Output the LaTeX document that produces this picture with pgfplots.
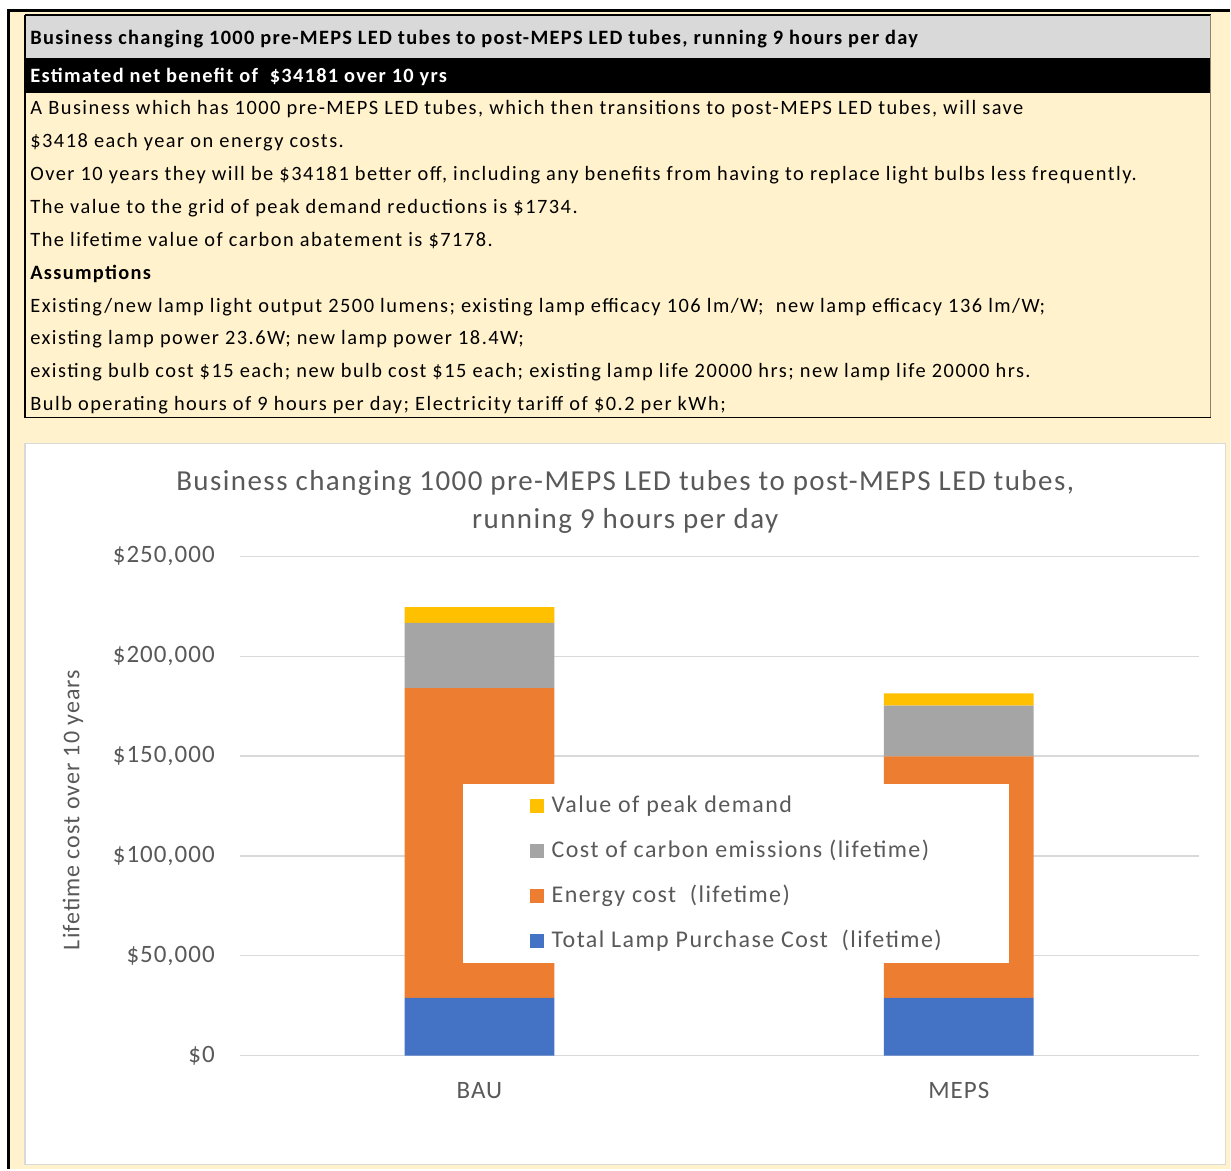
\documentclass[border=0pt]{standalone}
\usepackage{pgfplots}
\pgfplotsset{compat=1.18}
\usepackage{fontspec}
\setmainfont{Carlito}
\newfontfamily\tabfont[LetterSpace=7.3]{Carlito}
\newfontfamily\tabbfont[LetterSpace=6.4]{Carlito}
\newfontfamily\titlefont[LetterSpace=5.0]{Carlito}
\newfontfamily\tickfont[LetterSpace=4]{Carlito}
\newfontfamily\legfont[LetterSpace=6.0]{Carlito}
\newfontfamily\ylabfont[LetterSpace=4.2]{Carlito}
\definecolor{beige}{HTML}{FFF2CC}
\definecolor{rowgrey}{HTML}{D9D9D9}
\definecolor{txtgrey}{HTML}{595959}
\definecolor{gridgrey}{HTML}{D9D9D9}
\definecolor{cblue}{HTML}{4472C4}
\definecolor{corange}{HTML}{ED7D31}
\definecolor{cgrey}{HTML}{A5A5A5}
\definecolor{cyellow}{HTML}{FFC000}
\begin{document}
\begin{tikzpicture}
\begin{scope}[x=0.5pt,y=-0.5pt]
\fill[white] (0,0) rectangle (1231,1170);
\fill[beige] (8,10) rectangle (1231,1170);
\draw[black,line width=1.5pt] (9,1170) -- (9,11) -- (1231,11);
% table
\fill[rowgrey] (25,16) rectangle (1212,58);
\fill[black] (25,58) rectangle (1212,93);
\draw[black,line width=1pt] (25,15.5) -- (1212,15.5);
\draw[black,line width=0.6pt] (25,15) -- (25,418) -- (1212,418);
\draw[gray!70!brown,line width=0.5pt] (1212,15) -- (1212,418);
\tikzset{tl/.style={anchor=base west,inner sep=0pt,font=\fontsize{10.2pt}{12pt}\tabfont},
         tb/.style={anchor=base west,inner sep=0pt,font=\fontsize{10.2pt}{12pt}\tabbfont\bfseries}}
\node[tb] at (30,45) {Business changing 1000 pre-MEPS LED tubes to post-MEPS LED tubes, running 9 hours per day};
\node[tb,text=white] at (30,83) {Estimated net benefit of~ \$34181 over 10 yrs};
\node[tl] at (30,115) {A Business which has 1000 pre-MEPS LED tubes, which then transitions to post-MEPS LED tubes, will save};
\node[tl] at (30,148) {\$3418 each year on energy costs.};
\node[tl] at (30,181) {Over 10 years they will be \$34181 better off, including any benefits from having to replace light bulbs less frequently.};
\node[tl] at (30,214) {The value to the grid of peak demand reductions is \$1734.};
\node[tl] at (30,247) {The lifetime value of carbon abatement is \$7178.};
\node[tb] at (30,280) {Assumptions};
\node[tl] at (30,313) {Existing/new lamp light output 2500 lumens; existing lamp efficacy 106 lm/W;~ new lamp efficacy 136 lm/W;};
\node[tl] at (30,345) {existing lamp power 23.6W; new lamp power 18.4W;};
\node[tl] at (30,378) {existing bulb cost \$15 each; new bulb cost \$15 each; existing lamp life 20000 hrs; new lamp life 20000 hrs.};
\node[tl] at (30,411) {Bulb operating hours of 9 hours per day; Electricity tariff of \$0.2 per kWh;};
% chart area
\filldraw[fill=white,draw=gridgrey,line width=0.6pt] (25,444) rectangle (1227,1166);
\node[text=txtgrey,font=\fontsize{14.5pt}{17pt}\titlefont,anchor=base,inner sep=0pt] at (626,491) {Business changing 1000 pre-MEPS LED tubes to post-MEPS LED tubes,};
\node[text=txtgrey,font=\fontsize{14.5pt}{17pt}\titlefont,anchor=base,inner sep=0pt] at (626,529) {running 9 hours per day};
\node[text=txtgrey,font=\fontsize{12pt}{14pt}\ylabfont,rotate=90,inner sep=0pt] at (73,811) {Lifetime cost over 10 years};
\end{scope}
\begin{axis}[
  at={(120pt,-528.5pt)}, anchor=south west,
  scale only axis, width=480pt, height=250pt,
  ybar stacked, bar width=75pt,
  xmin=-0.5, xmax=1.5, ymin=0, ymax=250000,
  xtick={0,1}, xticklabels={BAU,MEPS},
  ytick={0,50000,100000,150000,200000,250000},
  yticklabels={\$0,{\$50,000},{\$100,000},{\$150,000},{\$200,000},{\$250,000}},
  scaled y ticks=false,
  ymajorgrids, grid style={gridgrey,line width=0.6pt},
  axis x line*=bottom, axis y line*=left,
  x axis line style={gridgrey,line width=0.6pt,-},
  y axis line style={draw=none},
  major tick length=0pt,
  tick label style={text=txtgrey,font=\fontsize{12.5pt}{14pt}\tickfont},
  yticklabel style={xshift=-9pt},
  xticklabel style={yshift=-10pt},
  clip=false,
  legend style={at={(rel axis cs:0.2323,0.5441)}, anchor=north west, draw=none, fill=white,
    inner xsep=33.5pt, inner ysep=5.5pt,
    font=\fontsize{12pt}{14pt}\legfont, text=txtgrey, row sep=11.5pt,
    nodes={inner sep=0pt, text height=8.5pt, text depth=2.5pt}},
  legend cell align=left,
  reverse legend,
  legend image code/.code={\fill[#1] (0pt,-3.5pt) rectangle (7pt,3.5pt);},
]
\addplot[fill=cblue,draw=none] coordinates {(0,29000) (1,29000)};
\addlegendentry{\hspace{4pt}Total Lamp Purchase Cost~ (lifetime)}
\addplot[fill=corange,draw=none] coordinates {(0,155052) (1,120888)};
\addlegendentry{\hspace{4pt}Energy cost~ (lifetime)}
\addplot[fill=cgrey,draw=none] coordinates {(0,32600) (1,25420)};
\addlegendentry{\hspace{4pt}Cost of carbon emissions (lifetime)}
\addplot[fill=cyellow,draw=none] coordinates {(0,7870) (1,6136)};
\addlegendentry{\hspace{4pt}Value of peak demand}
\end{axis}
\end{tikzpicture}
\end{document}
